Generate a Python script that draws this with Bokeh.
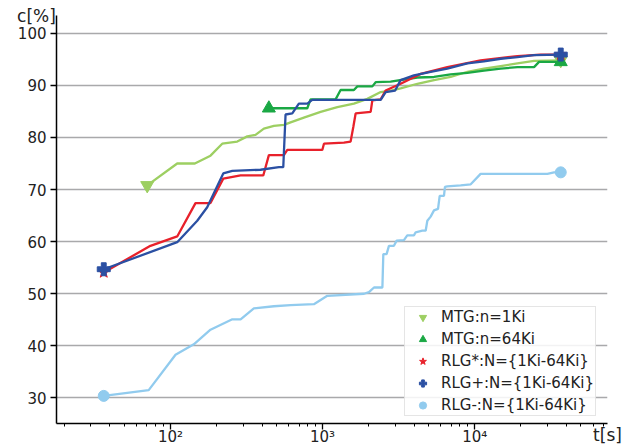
from bokeh.plotting import figure
from bokeh.models import Range1d, FixedTicker, SingleIntervalTicker
from bokeh.embed import file_html
from bokeh.resources import INLINE

# ---------------- data ----------------
mtg1_t = [70.3, 110.7, 144.5, 183.2, 218.8, 274.8, 319.9, 362.2, 411.1, 478.6,
          556.6, 615.8, 753.2, 970.7, 1250, 1607, 1968, 2410, 2800, 3258,
          4198, 5402, 6950, 8954, 11510, 14830, 19100, 24570, 36800]
mtg1_c = [70.8, 75.0, 75.0, 76.5, 78.8, 79.2, 80.2, 80.5, 81.7, 82.2,
          82.4, 82.9, 83.8, 84.9, 85.8, 86.5, 87.4, 88.7, 89.0, 89.4,
          90.3, 91.0, 91.6, 92.6, 93.2, 93.7, 94.2, 94.7, 94.8]

mtg64_t = [443.4, 793.3, 833.2, 1218, 1313, 1607, 1692, 2124, 2234, 2800,
           4198, 5402, 6950, 8954, 11510, 14830, 19100, 24570, 26500, 36800]
mtg64_c = [85.6, 85.6, 87.3, 87.3, 89.1, 89.1, 89.8, 89.8, 90.6, 90.7,
           91.5, 91.6, 92.1, 92.4, 92.8, 93.2, 93.5, 93.5, 94.5, 94.5]

rlgs_t = [36.4, 73.8, 110.7, 146.0, 183.2, 222.3, 289, 407.4, 443.4, 556.6,
          585.9, 995.7, 1021, 1381, 1528, 1592, 1649, 2070, 2124, 2410,
          2596, 3258, 4415, 6609, 10940, 19100, 27170, 36800]
rlgs_c = [54.1, 59.2, 61.0, 67.4, 67.4, 72.1, 72.7, 72.7, 76.6, 76.6,
          77.6, 77.6, 78.8, 79.0, 79.2, 82.0, 84.6, 84.9, 87.1, 87.3,
          89.0, 90.3, 92.2, 93.5, 94.8, 95.6, 95.9, 95.9]

rlgp_t = [36.4, 110.7, 149.9, 174.3, 222.3, 254.9, 390.8, 516.1, 551.4, 570.8,
          631.9, 698.4, 793.3, 855.2, 2410, 2600, 3000, 3258, 3986, 5135,
          6609, 8954, 11510, 14830, 19100, 24570, 36800]
rlgp_c = [54.7, 59.9, 64.0, 66.6, 73.1, 73.6, 73.8, 74.3, 74.3, 84.4,
          84.6, 86.5, 86.5, 87.2, 87.2, 88.7, 89.0, 91.0, 91.9, 92.6,
          93.2, 94.2, 94.6, 95.1, 95.4, 95.8, 95.9]

rlgm_t = [36.4, 71.9, 107.9, 142.3, 183.2, 254.9, 289, 353.2, 478.6, 615.8,
          876.6, 1074, 1871, 2018, 2178, 2473, 2508, 2635, 2731, 2944,
          3069, 3426, 3603, 3986, 4092, 4529, 4761, 4883, 5135, 5402,
          5741, 5888, 6282, 6377, 6609, 8089, 9417, 10940, 30060, 33270, 36800]
rlgm_c = [30.4, 31.5, 38.3, 40.3, 43.1, 45.1, 45.1, 47.2, 47.6, 47.8,
          48.0, 49.6, 50.0, 50.3, 51.2, 51.2, 57.6, 57.6, 59.2, 59.2,
          60.2, 60.3, 61.2, 61.2, 61.8, 62.1, 62.1, 64.0, 64.8, 66.0,
          66.3, 68.8, 68.8, 70.5, 70.6, 70.8, 71.0, 73.0, 73.0, 73.3, 73.3]

labels = ["MTG:n=1Ki", "MTG:n=64Ki", "RLG*:N={1Ki-64Ki}", "RLG+:N={1Ki-64Ki}", "RLG-:N={1Ki-64Ki}"]
colors = ["#9dcf62", "#1aa844", "#e8212b", "#2b50a3", "#91cbee"]
markers = ["inverted_triangle", "triangle", "star", "plus", "circle"]
msizes = [13, 13, 12, 13, 11]
series = [(mtg1_t, mtg1_c), (mtg64_t, mtg64_c), (rlgs_t, rlgs_c), (rlgp_t, rlgp_c), (rlgm_t, rlgm_c)]

x_major = [100, 1000, 10000]
x_minor = [20, 30, 40, 50, 60, 70, 80, 90, 200, 300, 400, 500, 600, 700, 800, 900,
           2000, 3000, 4000, 5000, 6000, 7000, 8000, 9000,
           20000, 30000, 40000, 50000, 60000, 70000]
x_tick_text = {100: "10\u00b2", 1000: "10\u00b3", 10000: "10\u2074"}
x_title = "t[s]"
y_title = "c[%]"

FONT = "DejaVu Sans"

p = figure(width=624, height=447, x_axis_type="log",
           x_range=Range1d(17.8, 74700), y_range=Range1d(25.1, 103.4),
           output_backend="svg", toolbar_location=None,
           min_border_left=56, min_border_right=17, min_border_top=15, min_border_bottom=23)
p.outline_line_color = None
p.background_fill_color = "white"
p.border_fill_color = "white"

# grid
p.xgrid.visible = False
p.ygrid.grid_line_color = "#a9a9ab"
p.ygrid.grid_line_width = 1.6

# axes
p.xaxis.ticker = FixedTicker(ticks=x_major, minor_ticks=x_minor)
p.xaxis.major_label_overrides = x_tick_text
p.yaxis.ticker = SingleIntervalTicker(interval=10, num_minor_ticks=0)
for ax in (p.xaxis[0], p.yaxis[0]):
    ax.axis_line_color = "black"
    ax.axis_line_width = 1.5
    ax.major_tick_line_color = "black"
    ax.major_tick_line_width = 1.3
    ax.major_tick_out = 6
    ax.major_tick_in = 0
    ax.minor_tick_line_color = "black"
    ax.minor_tick_line_width = 1.0
    ax.minor_tick_out = 3
    ax.minor_tick_in = 0
    ax.major_label_text_font = FONT
    ax.major_label_text_font_size = "15px"
    ax.major_label_text_color = "#222222"
    ax.axis_label_text_font = FONT
    ax.axis_label_text_font_size = "17px"
    ax.axis_label_text_font_style = "normal"
    ax.axis_label_text_color = "#222222"

xa = p.xaxis[0]
ya = p.yaxis[0]
xa.major_label_standoff = -2
ya.major_label_standoff = 4
xa.axis_label = x_title
ya.axis_label = y_title
ya.axis_label_orientation = "horizontal"
xa.axis_label_standoff = -24
ya.axis_label_standoff = -41
try:
    xa.axis_label_align = "end"
    ya.axis_label_align = "end"
except Exception:
    pass

# lines
for (t, c), col in zip(series, colors):
    p.line(t, c, line_color=col, line_width=2.3)

# end markers (first and last point of each series)
for (t, c), col, mk, ms, lab in zip(series, colors, markers, msizes, labels):
    p.scatter([t[0], t[-1]], [c[0], c[-1]], marker=mk, size=ms,
              fill_color=col, line_color=col, legend_label=lab)

lg = p.legend[0]
lg.location = (348, 7)
lg.label_text_font = FONT
lg.label_text_font_size = "15px"
lg.label_text_color = "#222222"
lg.glyph_width = 33
lg.glyph_height = 18
lg.label_height = 18
lg.label_standoff = 2
lg.spacing = 4
lg.padding = 1
lg.margin = 0
lg.border_line_color = "#cccccc"
lg.border_line_width = 1
lg.background_fill_color = "white"
lg.background_fill_alpha = 0.85

open("out.html", "w").write(file_html(p, INLINE))
